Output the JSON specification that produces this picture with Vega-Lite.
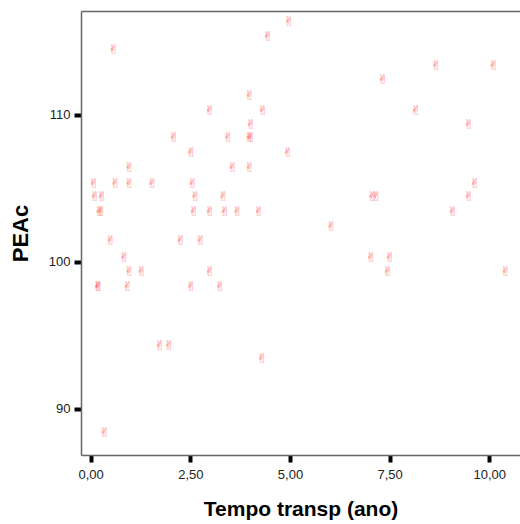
{
  "$schema": "https://vega.github.io/schema/vega-lite/v6.json",
  "width": 439,
  "height": 444,
  "autosize": "none",
  "padding": {"left": 81, "top": 11, "right": 0, "bottom": 69},
  "background": "white",
  "config": {"view": {"stroke": null}, "font": "Liberation Sans"},
  "data": {"values": [
    {"t": 4.98, "p": 116.35}, {"t": 4.45, "p": 115.3}, {"t": 0.58, "p": 114.4},
    {"t": 3.99, "p": 111.3}, {"t": 2.99, "p": 110.3}, {"t": 4.32, "p": 110.3},
    {"t": 4.02, "p": 109.3}, {"t": 2.09, "p": 108.4}, {"t": 3.45, "p": 108.4},
    {"t": 3.98, "p": 108.4}, {"t": 4.02, "p": 108.4}, {"t": 2.52, "p": 107.4},
    {"t": 4.95, "p": 107.4}, {"t": 8.67, "p": 113.3}, {"t": 10.11, "p": 113.3},
    {"t": 7.33, "p": 112.4}, {"t": 8.16, "p": 110.3}, {"t": 9.49, "p": 109.3},
    {"t": 0.97, "p": 106.4}, {"t": 3.56, "p": 106.4}, {"t": 3.99, "p": 106.4},
    {"t": 0.08, "p": 105.3}, {"t": 0.62, "p": 105.3}, {"t": 0.97, "p": 105.3},
    {"t": 1.55, "p": 105.3}, {"t": 2.56, "p": 105.3}, {"t": 0.11, "p": 104.4},
    {"t": 0.28, "p": 104.4}, {"t": 2.63, "p": 104.4}, {"t": 3.33, "p": 104.4},
    {"t": 0.22, "p": 103.4}, {"t": 0.27, "p": 103.4}, {"t": 2.59, "p": 103.4},
    {"t": 2.99, "p": 103.4}, {"t": 3.37, "p": 103.4}, {"t": 3.68, "p": 103.4},
    {"t": 4.22, "p": 103.4}, {"t": 0.5, "p": 101.4}, {"t": 2.26, "p": 101.4},
    {"t": 2.76, "p": 101.4}, {"t": 0.85, "p": 100.3}, {"t": 0.97, "p": 99.3},
    {"t": 1.28, "p": 99.3}, {"t": 2.99, "p": 99.3}, {"t": 0.18, "p": 98.3},
    {"t": 0.2, "p": 98.3}, {"t": 0.93, "p": 98.3}, {"t": 2.52, "p": 98.3},
    {"t": 3.25, "p": 98.3}, {"t": 9.64, "p": 105.3}, {"t": 7.07, "p": 104.4},
    {"t": 7.17, "p": 104.4}, {"t": 9.49, "p": 104.4}, {"t": 9.09, "p": 103.4},
    {"t": 6.04, "p": 102.4}, {"t": 7.04, "p": 100.3}, {"t": 7.51, "p": 100.3},
    {"t": 7.46, "p": 99.3}, {"t": 10.41, "p": 99.3}, {"t": 1.74, "p": 94.3},
    {"t": 1.97, "p": 94.3}, {"t": 4.3, "p": 93.4}, {"t": 0.35, "p": 88.4}
  ]},
  "layer": [
    {
      "mark": {"type": "text", "text": "✌", "font": "DejaVu Sans", "fontSize": 13, "align": "center", "baseline": "middle", "color": "#ff4d4d", "opacity": 0.75},
      "encoding": {
        "x": {"field": "t", "type": "quantitative",
          "scale": {"domain": [-0.243, 10.77], "nice": false, "zero": false},
          "axis": {"values": [0, 2.5, 5, 7.5, 10], "labelExpr": "replace(format(datum.value, '.2f'), '.', ',')",
            "grid": false, "domainColor": "#666666", "domainWidth": 1.5,
            "tickColor": "black", "tickWidth": 4, "tickSize": 7, "tickCap": "butt",
            "labelFont": "Liberation Sans", "labelFontSize": 13, "labelColor": "#222222", "labelPadding": 6,
            "title": "Tempo transp (ano)", "titleFont": "Liberation Sans", "titleFontSize": 21, "titleFontWeight": "bold",
            "titleColor": "black", "titlePadding": 17}},
        "y": {"field": "p", "type": "quantitative",
          "scale": {"domain": [86.87, 117.07], "nice": false, "zero": false},
          "axis": {"values": [90, 100, 110], "grid": false, "domainColor": "#666666", "domainWidth": 1.5,
            "tickColor": "black", "tickWidth": 4, "tickSize": 7, "tickCap": "butt",
            "labelFont": "Liberation Sans", "labelFontSize": 13, "labelColor": "#222222", "labelPadding": 4,
            "title": "PEAc", "titleFont": "Liberation Sans", "titleFontSize": 22, "titleFontWeight": "bold",
            "titleColor": "black", "titlePadding": 16}}
      }
    },
    {
      "mark": {"type": "point", "opacity": 0},
      "encoding": {
        "x": {"field": "t", "type": "quantitative",
          "axis": {"orient": "top", "labels": false, "ticks": false, "grid": false, "title": null,
            "domainColor": "#666666", "domainWidth": 1.5}},
        "y": {"field": "p", "type": "quantitative"}
      }
    }
  ],
  "resolve": {"axis": {"x": "independent"}}
}
